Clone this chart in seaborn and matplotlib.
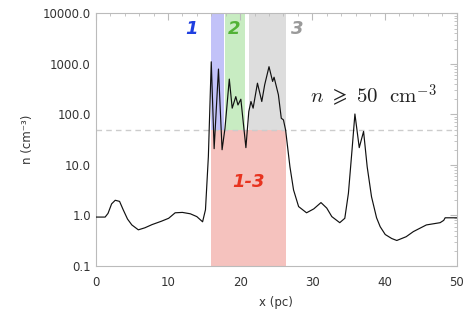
import numpy as np, pandas as pd
import matplotlib
matplotlib.use('Agg')
import matplotlib.pyplot as plt
import seaborn as sns
from matplotlib.ticker import LogLocator, MultipleLocator, FixedLocator, FixedFormatter

# density profile
x_pc = [0.0, 1.3, 1.7, 2.2, 2.7, 3.3, 3.8, 4.4, 5.0, 5.9, 6.8, 7.8, 9.1, 10.1, 11.0, 12.0, 13.1, 14.0, 14.8, 15.2,
        15.6, 16.0, 16.4, 17.0, 17.5, 17.9, 18.5, 18.9, 19.4, 19.7, 20.1, 20.8, 21.2, 21.5, 21.8, 22.4, 23.0, 23.4,
        24.0, 24.5, 24.7, 25.3, 25.7, 26.0, 26.3, 26.9, 27.4, 28.1, 29.2, 30.2, 31.2, 32.0, 32.7, 33.8, 34.5, 35.0,
        35.5, 35.9, 36.5, 37.1, 37.6, 38.2, 38.9, 39.4, 40.1, 41.0, 41.7, 43.0, 44.0, 45.8, 47.7, 48.2, 48.4, 50.0]
n_cm3 = [0.93, 0.93, 1.1, 1.7, 2.0, 1.9, 1.3, 0.85, 0.65, 0.52, 0.57, 0.66, 0.77, 0.88, 1.13, 1.15, 1.08, 0.95, 0.75, 1.3,
         14.6, 1100, 21, 790, 20, 53, 500, 133, 225, 154, 200, 22, 114, 180, 133, 415, 180, 385,
         880, 450, 545, 245, 84, 78, 49, 9.2, 3.2, 1.5, 1.13, 1.35, 1.8, 1.4, 0.95, 0.72, 0.88, 2.75,
         19.8, 102, 22, 46, 9.2, 2.35, 0.9, 0.6, 0.42, 0.35, 0.32, 0.38, 0.48, 0.65, 0.72, 0.8, 0.9, 0.9]

# regions
region_names = ['1', '2', '3', '1-3']
region_x0 = [15.9, 17.85, 21.2, 15.9]
region_x1 = [17.75, 20.7, 26.4, 26.4]
region_fill = ['#c2c2f8', '#c8ecc2', '#dddddd', '#f5c2be']
region_text = ['#1f3fe0', '#52b236', '#9a9a9a', '#e8331f']
n_threshold = 50

df = pd.DataFrame({'x': x_pc, 'n': n_cm3})

sns.set_style('white')
plt.rcParams['font.family'] = ['DejaVu Sans']
plt.rcParams['mathtext.fontset'] = 'cm'

fig = plt.figure(figsize=(4.74, 3.18), dpi=100)
ax = fig.add_axes([0.202, 0.1635, 0.7615, 0.7945])

ax.set_yscale('log')
ax.set_xlim(0, 50)
ax.set_ylim(0.1, 10000)

# shaded regions
for i in range(3):
    ax.fill_betweenx([n_threshold, 10000], region_x0[i], region_x1[i], color=region_fill[i], lw=0, zorder=0)
ax.fill_betweenx([0.1, n_threshold], region_x0[3], region_x1[3], color=region_fill[3], lw=0, zorder=0)

ax.axhline(n_threshold, color='#cccccc', ls=(0, (4, 3)), lw=1, zorder=1)

sns.lineplot(data=df, x='x', y='n', ax=ax, color='#111111', lw=0.85, zorder=3)

# region labels
lab_x = [13.2, 19.2, 27.9, 21.2]
lab_y = [5000, 5000, 5000, 4.6]
for i in range(4):
    ax.text(lab_x[i], lab_y[i], region_names[i], color=region_text[i], fontsize=13,
            fontweight='bold', style='italic', ha='center', va='center', zorder=4)

ax.text(38.4, 240, r'$n\ \geqslant\ 50\ \ \mathrm{cm}^{-3}$', fontsize=15, color='#222222',
        ha='center', va='center')

# axes styling
ax.yaxis.set_major_locator(FixedLocator([0.1, 1, 10, 100, 1000, 10000]))
ax.yaxis.set_major_formatter(FixedFormatter(['0.1', '1.0', '10.0', '100.0', '1000.0', '10000.0']))
ax.yaxis.set_minor_locator(LogLocator(base=10, subs=np.arange(2, 10), numticks=20))
ax.yaxis.set_minor_formatter(FixedFormatter([]))
ax.xaxis.set_major_locator(MultipleLocator(10))
ax.xaxis.set_minor_locator(MultipleLocator(2))
ax.tick_params(which='both', direction='in', top=True, right=True, colors='#bbbbbb',
               labelcolor='#333333', labelsize=8.5)
ax.tick_params(which='major', length=5, width=0.8)
ax.tick_params(which='minor', length=2.5, width=0.6)
ax.tick_params(axis='x', pad=7)
for s in ax.spines.values():
    s.set_color('#bbbbbb')
    s.set_linewidth(0.8)

ax.set_xlabel('x (pc)', fontsize=8.5, color='#333333', labelpad=5)
ax.set_ylabel('n (cm\u207b\u00b3)', fontsize=8.5, color='#333333', labelpad=6)

fig.savefig('out.png', dpi=100)
